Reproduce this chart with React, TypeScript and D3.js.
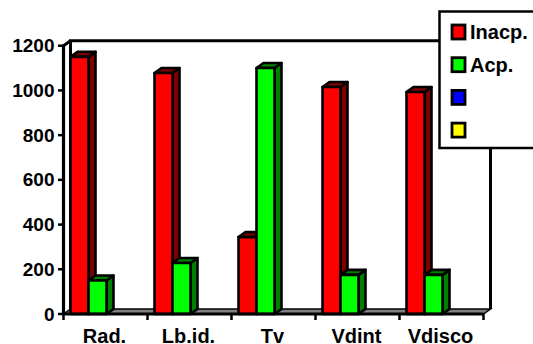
import React from "react";
import * as d3 from "d3";

const categories = ["Rad.", "Lb.id.", "Tv", "Vdint", "Vdisco"];
const inacp = [1150, 1078, 344, 1015, 993];
const acp = [150, 228, 1100, 175, 175];
const yTicks = [0, 200, 400, 600, 800, 1000, 1200];
const legendNames = ["Inacp.", "Acp.", "", ""];
const legendColors = ["#ff0000", "#00ff00", "#0000ff", "#ffff00"];
const seriesColors = [
  { front: "#ff0000", side: "#800000" },
  { front: "#00ff00", side: "#008000" },
];

const DX = 7;
const DY = 5;
const font = "'Liberation Sans', Arial, sans-serif";

export default function App() {
  const x = d3.scaleBand<string>().domain(categories).range([63.5, 483.5]);
  const y = d3.scaleLinear().domain([0, 1200]).range([314, 45.7]);
  const bw = 18;
  const top = y(1200) - DY;
  const series = [inacp, acp];
  return (
    <svg width={533} height={344} style={{ position: "fixed", left: 0, top: 0 }} fontFamily={font}>
      <rect width={533} height={344} fill="#fff" />
      {/* walls */}
      <path d={`M${x.range()[0] + DX},${y(0) - DY}V${top}H${x.range()[1] + DX}V${y(0) - DY}`} fill="none" stroke="#000" strokeWidth={3} />
      <path d={`M${x.range()[0]},${y(0)}V${y(1200)}L${x.range()[0] + DX},${top}`} fill="none" stroke="#000" strokeWidth={3} />
      {/* floor */}
      <path d={`M${x.range()[0]},${y(0)}L${x.range()[0] + DX},${y(0) - DY}H${x.range()[1] + DX}L${x.range()[1]},${y(0)}Z`} fill="#808080" stroke="#000" strokeWidth={1.5} />
      {/* bars */}
      {categories.map((c, i) =>
        series.map((vals, s) => {
          const x0 = (x(c) as number) + 7 + s * bw;
          const yv = y(vals[i]);
          const y0 = y(0);
          const col = seriesColors[s];
          return (
            <g key={c + s} stroke="#000" strokeWidth={2.6} strokeLinejoin="round">
              <path d={`M${x0 + bw},${y0}L${x0 + bw + DX},${y0 - DY}V${yv - DY}L${x0 + bw},${yv}Z`} fill={col.side} />
              <path d={`M${x0},${yv}L${x0 + DX},${yv - DY}H${x0 + bw + DX}L${x0 + bw},${yv}Z`} fill={col.side} />
              <rect x={x0} y={yv} width={bw} height={y0 - yv} fill={col.front} />
            </g>
          );
        })
      )}
      {/* axes */}
      <line x1={x.range()[0]} x2={x.range()[1]} y1={y(0)} y2={y(0)} stroke="#000" strokeWidth={3.2} />
      <line x1={x.range()[0]} x2={x.range()[0]} y1={y(0)} y2={y(1200)} stroke="#000" strokeWidth={3.2} />
      {yTicks.map((t) => (
        <g key={t}>
          <line x1={58} x2={x.range()[0]} y1={y(t)} y2={y(t)} stroke="#000" strokeWidth={2.5} />
          <text x={54.5} y={y(t) + 6.5} textAnchor="end" fontSize={19} fontWeight={700} fill="#000">{t}</text>
        </g>
      ))}
      {[...categories.map((c) => x(c) as number), x.range()[1]].map((px) => (
        <line key={px} x1={px} x2={px} y1={y(0)} y2={y(0) + 6} stroke="#000" strokeWidth={2.5} />
      ))}
      {categories.map((c) => (
        <text key={c} x={(x(c) as number) + x.bandwidth() / 2 - 1} y={342.5} textAnchor="middle" fontSize={20} fontWeight={700} fill="#000">{c}</text>
      ))}
      {/* legend */}
      <rect x={439.5} y={11.5} width={110} height={136.5} fill="#fff" stroke="#000" strokeWidth={2.5} />
      {legendColors.map((col, i) => {
        const ly = 25 + i * 32.7;
        return (
          <g key={col}>
            <rect x={452} y={ly} width={13} height={14} fill={col} stroke="#000" strokeWidth={2.8} />
            <text x={470} y={ly + 14} fontSize={20} fontWeight={700} fill="#000">{legendNames[i]}</text>
          </g>
        );
      })}
    </svg>
  );
}
